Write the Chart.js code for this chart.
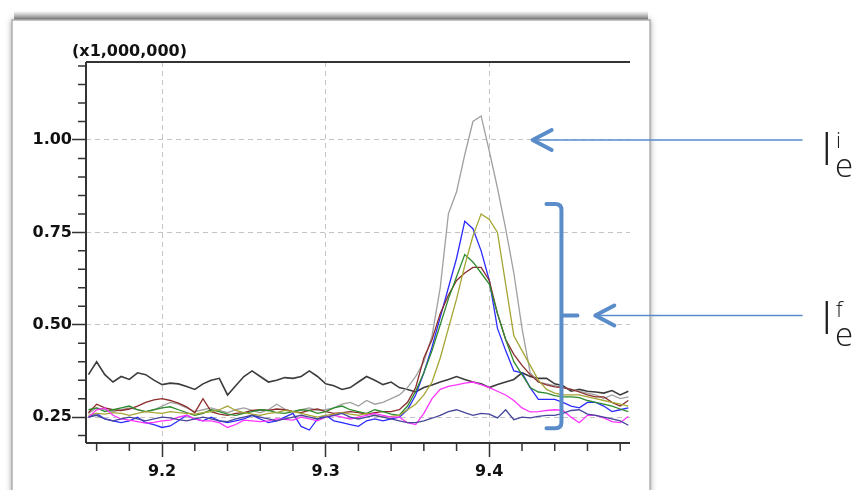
<!DOCTYPE html>
<html><head><meta charset="utf-8">
<script src="https://cdn.jsdelivr.net/npm/chart.js@4.4.1/dist/chart.umd.min.js"></script>
<style>html,body{margin:0;padding:0;background:#fff;overflow:hidden}canvas{display:block}</style>
</head><body>
<canvas id="c" width="858" height="490"></canvas>
<script>
// ---- data ----
const retentionTimes = [
 9.155,9.160,9.165,9.170,9.175,9.180,9.185,9.190,9.195,9.200,
 9.205,9.210,9.215,9.220,9.225,9.230,9.235,9.240,9.245,9.250,
 9.255,9.260,9.265,9.270,9.275,9.280,9.285,9.290,9.295,9.300,
 9.305,9.310,9.315,9.320,9.325,9.330,9.335,9.340,9.345,9.350,
 9.355,9.360,9.365,9.370,9.375,9.380,9.385,9.390,9.395,9.400,
 9.405,9.410,9.415,9.420,9.425,9.430,9.435,9.440,9.445,9.450,
 9.455,9.460,9.465,9.470,9.475,9.480,9.485];
const blackTrace = [
 0.365,0.40,0.365,0.345,0.36,0.352,0.37,0.365,0.35,0.338,
 0.342,0.34,0.333,0.325,0.34,0.35,0.355,0.31,0.335,0.36,
 0.375,0.36,0.345,0.35,0.357,0.355,0.36,0.375,0.36,0.34,
 0.335,0.325,0.33,0.345,0.36,0.35,0.338,0.345,0.33,0.325,
 0.318,0.33,0.337,0.345,0.352,0.36,0.352,0.345,0.34,0.33,
 0.338,0.345,0.352,0.37,0.36,0.355,0.355,0.34,0.335,0.32,
 0.325,0.32,0.318,0.315,0.322,0.31,0.32];
const grayTrace = [
 0.26,0.275,0.27,0.265,0.27,0.275,0.27,0.265,0.27,0.28,
 0.29,0.285,0.275,0.265,0.27,0.275,0.268,0.262,0.27,0.275,
 0.268,0.262,0.27,0.285,0.272,0.265,0.27,0.275,0.268,0.27,
 0.275,0.285,0.29,0.28,0.295,0.285,0.29,0.30,0.31,0.33,
 0.36,0.40,0.47,0.60,0.80,0.86,0.96,1.05,1.065,0.97,
 0.87,0.76,0.64,0.49,0.37,0.345,0.34,0.335,0.33,0.325,
 0.32,0.315,0.31,0.30,0.31,0.30,0.305];
const oliveTrace = [
 0.255,0.26,0.258,0.262,0.26,0.255,0.26,0.265,0.262,0.26,
 0.265,0.262,0.26,0.258,0.262,0.265,0.27,0.28,0.268,0.262,
 0.258,0.255,0.26,0.262,0.268,0.265,0.26,0.255,0.25,0.255,
 0.258,0.262,0.258,0.255,0.26,0.255,0.25,0.252,0.255,0.27,
 0.285,0.31,0.345,0.41,0.49,0.57,0.66,0.74,0.80,0.785,
 0.75,0.61,0.47,0.43,0.39,0.35,0.325,0.315,0.31,0.31,
 0.31,0.305,0.30,0.295,0.29,0.285,0.28];
const blueTrace = [
 0.25,0.26,0.245,0.24,0.235,0.24,0.25,0.235,0.23,0.222,
 0.226,0.24,0.255,0.245,0.24,0.25,0.24,0.235,0.24,0.245,
 0.255,0.245,0.235,0.24,0.25,0.26,0.225,0.215,0.245,0.255,
 0.24,0.235,0.23,0.225,0.24,0.245,0.24,0.245,0.25,0.27,
 0.31,0.37,0.44,0.52,0.60,0.68,0.78,0.76,0.70,0.62,
 0.49,0.43,0.375,0.37,0.33,0.298,0.298,0.298,0.29,0.28,
 0.275,0.29,0.29,0.28,0.265,0.27,0.275];
const greenTrace = [
 0.27,0.275,0.265,0.27,0.275,0.28,0.27,0.265,0.27,0.275,
 0.278,0.27,0.262,0.255,0.26,0.27,0.265,0.258,0.255,0.26,
 0.265,0.27,0.268,0.262,0.26,0.265,0.27,0.268,0.26,0.265,
 0.275,0.28,0.27,0.265,0.26,0.27,0.265,0.258,0.255,0.28,
 0.32,0.37,0.43,0.50,0.57,0.63,0.69,0.67,0.64,0.61,
 0.53,0.46,0.40,0.365,0.33,0.318,0.315,0.308,0.305,0.305,
 0.303,0.295,0.29,0.285,0.28,0.272,0.265];
const redTrace = [
 0.262,0.285,0.275,0.27,0.268,0.272,0.28,0.29,0.297,0.30,
 0.295,0.288,0.278,0.262,0.30,0.265,0.258,0.255,0.26,0.262,
 0.268,0.27,0.268,0.272,0.27,0.265,0.262,0.268,0.272,0.265,
 0.26,0.262,0.265,0.262,0.258,0.262,0.265,0.265,0.27,0.29,
 0.33,0.41,0.46,0.53,0.58,0.62,0.64,0.655,0.655,0.62,
 0.53,0.46,0.42,0.39,0.365,0.345,0.337,0.332,0.33,0.325,
 0.318,0.31,0.305,0.305,0.29,0.28,0.295];
const magentaTrace = [
 0.25,0.27,0.275,0.255,0.245,0.242,0.238,0.234,0.236,0.24,
 0.242,0.25,0.255,0.245,0.24,0.24,0.235,0.222,0.23,0.242,
 0.24,0.238,0.24,0.245,0.244,0.242,0.25,0.245,0.24,0.25,
 0.255,0.25,0.245,0.25,0.255,0.26,0.255,0.25,0.25,0.235,
 0.23,0.26,0.30,0.325,0.333,0.337,0.342,0.345,0.338,0.33,
 0.32,0.31,0.295,0.275,0.264,0.265,0.268,0.27,0.268,0.25,
 0.235,0.255,0.255,0.248,0.238,0.235,0.252];
const navyTrace = [
 0.25,0.255,0.245,0.24,0.245,0.25,0.245,0.24,0.245,0.25,
 0.248,0.243,0.24,0.245,0.25,0.245,0.24,0.238,0.245,0.25,
 0.255,0.25,0.245,0.24,0.245,0.25,0.255,0.25,0.245,0.25,
 0.255,0.26,0.25,0.245,0.25,0.255,0.25,0.245,0.24,0.235,
 0.235,0.24,0.247,0.255,0.265,0.27,0.262,0.255,0.26,0.258,
 0.248,0.27,0.243,0.25,0.248,0.252,0.255,0.255,0.26,0.268,
 0.27,0.258,0.255,0.25,0.245,0.24,0.228];
const xTickValues = [9.2, 9.3, 9.4];
const yTickValues = [0.25, 0.50, 0.75, 1.00];
const yScaleLabel = '(x1,000,000)';
const labelInitial = ['I', 'i', 'e'];
const labelFinal = ['I', 'f', 'e'];

// ---- styling / layout ----
const ANN = '#5b8cca';
const tickFont = { family: 'DejaVu Sans', weight: 'bold', size: 16 };
function pts(arr) { return arr.map((v, i) => ({ x: retentionTimes[i], y: v })); }
function ds(arr, color, w) {
  return { data: pts(arr), borderColor: color, borderWidth: w, pointRadius: 0, fill: false, tension: 0 };
}

const frame = {
  id: 'frame',
  beforeDraw(chart) {
    const ctx = chart.ctx;
    ctx.save();
    ctx.fillStyle = '#fff'; ctx.fillRect(0, 0, chart.width, chart.height);
    // top shadow band
    const g = ctx.createLinearGradient(0, 11, 0, 21);
    g.addColorStop(0, 'rgba(0,0,0,0)');
    g.addColorStop(1, 'rgba(0,0,0,0.55)');
    ctx.fillStyle = g; ctx.fillRect(14, 11, 634, 10);
    ctx.shadowColor = 'rgba(0,0,0,0.45)'; ctx.shadowBlur = 6;
    ctx.fillStyle = '#fff'; ctx.fillRect(12, 20, 638, 490);
    ctx.shadowColor = 'transparent';
    ctx.strokeStyle = '#b0b0b0'; ctx.lineWidth = 1.5; ctx.strokeRect(12, 20, 638, 490);
    ctx.restore();
  }
};

const decor = {
  id: 'decor',
  afterDraw(chart) {
    const ctx = chart.ctx, a = chart.chartArea, xs = chart.scales.x, ys = chart.scales.y;
    ctx.save();
    // axis lines
    ctx.strokeStyle = '#333'; ctx.lineWidth = 2; ctx.setLineDash([]);
    ctx.beginPath();
    ctx.moveTo(a.left, a.top); ctx.lineTo(a.right, a.top);
    ctx.moveTo(a.left, a.top); ctx.lineTo(a.left, a.bottom);
    ctx.moveTo(a.left, a.bottom); ctx.lineTo(a.right, a.bottom);
    ctx.stroke();
    // minor ticks
    ctx.lineWidth = 1.5;
    ctx.beginPath();
    for (let k = 4; k <= 24; k++) {
      if (k % 5 === 0) continue;
      const y = ys.getPixelForValue(k * 0.05);
      ctx.moveTo(a.left - 8, y); ctx.lineTo(a.left, y);
    }
    for (let k = 458; k <= 474; k++) {
      if (k % 5 === 0) continue;
      const x = xs.getPixelForValue(k * 0.02);
      ctx.moveTo(x, a.bottom); ctx.lineTo(x, a.bottom + 8);
    }
    ctx.stroke();
    // scale label
    ctx.fillStyle = '#111';
    ctx.font = 'bold 16px "DejaVu Sans"';
    ctx.textBaseline = 'middle'; ctx.textAlign = 'left';
    ctx.fillText(yScaleLabel, 72, 52);

    // annotations
    ctx.strokeStyle = ANN; ctx.lineCap = 'round'; ctx.lineJoin = 'round';
    const tailX = 802;
    function arrow(tx, ty) {
      ctx.lineWidth = 1.6;
      ctx.beginPath(); ctx.moveTo(tailX, ty); ctx.lineTo(tx + 2, ty); ctx.stroke();
      ctx.lineWidth = 4;
      ctx.beginPath(); ctx.moveTo(tx + 19, ty - 10); ctx.lineTo(tx, ty); ctx.lineTo(tx + 19, ty + 10); ctx.stroke();
    }
    const yI = ys.getPixelForValue(1.0);
    arrow(xs.getPixelForValue(9.4265), yI);
    const yF = ys.getPixelForValue(0.525);
    arrow(xs.getPixelForValue(9.4648), yF);
    // bracket
    const bx = xs.getPixelForValue(9.4441);
    const bt = ys.getPixelForValue(0.827), bb = ys.getPixelForValue(0.22);
    ctx.lineWidth = 4;
    ctx.beginPath();
    ctx.moveTo(bx - 15, bt); ctx.lineTo(bx - 6, bt);
    ctx.quadraticCurveTo(bx, bt, bx, bt + 6);
    ctx.lineTo(bx, bb - 6);
    ctx.quadraticCurveTo(bx, bb, bx - 6, bb);
    ctx.lineTo(bx - 15, bb);
    ctx.moveTo(bx, yF); ctx.lineTo(bx + 16, yF);
    ctx.stroke();

    // labels
    function label(parts, baseY) {
      ctx.fillStyle = '#1e1e1e'; ctx.textAlign = 'left'; ctx.textBaseline = 'alphabetic';
      ctx.font = '300 46px "Open Sans"';
      ctx.fillText(parts[0], 821, baseY);
      ctx.font = '300 22px "Open Sans"';
      ctx.fillText(parts[1], 836, baseY - 17);
      ctx.font = '300 33px "Open Sans"';
      ctx.fillText(parts[2], 835, baseY + 12);
    }
    label(labelInitial, yI + 25);
    label(labelFinal, yF + 18);
    ctx.restore();
  }
};

new Chart(document.getElementById('c'), {
  type: 'line',
  data: {
    datasets: [
      ds(navyTrace, '#45459a', 1.3),
      ds(magentaTrace, '#ff33ff', 1.3),
      ds(oliveTrace, '#a5a533', 1.3),
      ds(greenTrace, '#2e8b2e', 1.3),
      ds(redTrace, '#8b2b2b', 1.3),
      ds(blueTrace, '#2b2bff', 1.3),
      ds(grayTrace, '#a0a0a0', 1.3),
      ds(blackTrace, '#3c3c3c', 1.6)
    ]
  },
  options: {
    responsive: false, animation: false, devicePixelRatio: 1,
    layout: { padding: { top: 62, right: 228, left: 0, bottom: 0 } },
    plugins: { legend: { display: false }, tooltip: { enabled: false } },
    scales: {
      x: {
        type: 'linear', min: 9.1535, max: 9.486,
        afterBuildTicks: s => { s.ticks = xTickValues.map(v => ({ value: v })); },
        ticks: { callback: v => v.toFixed(1), font: tickFont, color: '#111', padding: 5, maxRotation: 0, autoSkip: false, includeBounds: false },
        grid: { color: '#c4c4c4', borderDash: [5, 4], tickColor: '#333', tickLength: 14, tickWidth: 1.5, tickBorderDash: [] },
        border: { display: false, dash: [5, 4] },
        afterFit: s => { s.height = 47; }
      },
      y: {
        type: 'linear', min: 0.18, max: 1.211,
        afterBuildTicks: s => { s.ticks = yTickValues.map(v => ({ value: v })); },
        ticks: { callback: v => v.toFixed(2), font: tickFont, color: '#111', padding: 0, includeBounds: false },
        grid: { color: '#c4c4c4', borderDash: [5, 4], tickColor: '#333', tickLength: 14, tickWidth: 1.5, tickBorderDash: [] },
        border: { display: false, dash: [5, 4] },
        afterFit: s => { s.width = 86; }
      }
    }
  },
  plugins: [frame, decor]
});
</script></body></html>
